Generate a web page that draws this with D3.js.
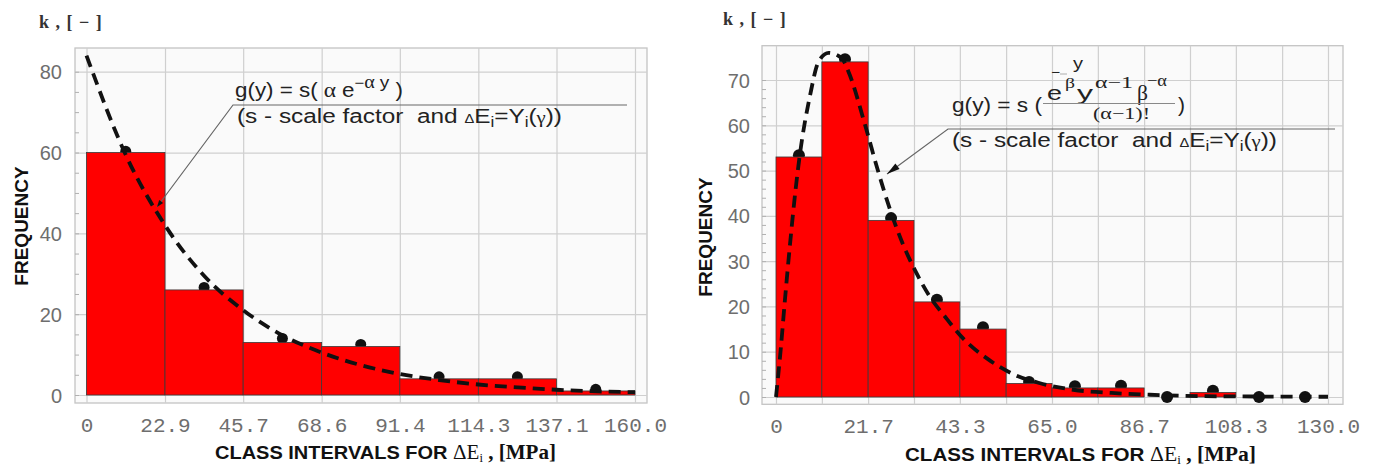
<!DOCTYPE html>
<html><head><meta charset="utf-8">
<script src="https://cdn.jsdelivr.net/npm/d3@7"></script>
<style>body{margin:0;background:#fff} svg{display:block}</style>
</head><body>
<svg id="chart" width="1377" height="467"></svg>
<script>
// ---------- LEFT PANEL DATA (exponential fit) ----------
const leftEdges = [0, 22.9, 45.7, 68.6, 91.4, 114.3, 137.1, 160.0];
const leftTickLabels = ["0", "22.9", "45.7", "68.6", "91.4", "114.3", "137.1", "160.0"];
const leftCounts = [60, 26, 13, 12, 4, 4, 1];
const leftPoints = [60.3, 26.6, 14, 12.5, 4.5, 4.5, 1.4];
const leftYTicks = [0, 20, 40, 60, 80];
const leftCurveX = [0, 11.4, 22.9, 34.3, 45.7, 57.1, 68.6, 80.0, 91.4, 102.9, 114.3, 125.7, 137.1, 148.6, 160.0];
const leftCurveY = [84, 59.5, 42, 29.5, 21, 14.8, 10.5, 7.4, 5.2, 3.7, 2.6, 1.9, 1.3, 0.9, 0.7];

// ---------- RIGHT PANEL DATA (gamma fit) ----------
const rightEdges = [0, 10.8, 21.7, 32.5, 43.3, 54.2, 65.0, 75.8, 86.7, 97.5, 108.3, 119.2, 130.0];
const rightTickValues = [0, 21.7, 43.3, 65.0, 86.7, 108.3, 130.0];
const rightTickLabels = ["0", "21.7", "43.3", "65.0", "86.7", "108.3", "130.0"];
const rightCounts = [53, 74, 39, 21, 15, 3, 2, 2, 0, 1, 0, 0];
const rightPoints = [53.4, 74.6, 39.5, 21.5, 15.4, 3.3, 2.4, 2.5, 0, 1.4, 0, 0];
const rightYTicks = [0, 10, 20, 30, 40, 50, 60, 70];
const rightCurveX = [0, 1.1, 2.1, 3.4, 4.6, 5.6, 8.0, 10.0, 12.4, 15.5, 17.0, 21.0, 24.0, 27.0, 30.0, 33.0, 36.0, 40.0, 44.0, 50.0, 56.0, 62.0, 70.0, 79.0, 88.0, 100.0, 115.0, 130.0];
const rightCurveY = [0, 10.4, 21.4, 34.7, 45.7, 53.4, 66.5, 74, 76, 74.8, 72, 60, 50, 41, 33.5, 27.5, 22.5, 17.5, 13, 8.3, 5, 3.1, 1.6, 0.9, 0.5, 0.2, 0.1, 0.05];

const svg = d3.select("#chart");
const SANS = "'Liberation Sans', Arial, sans-serif";
const SERIF = "'Liberation Serif', 'Times New Roman', serif";
const MONO = "'Liberation Mono', 'Courier New', monospace";

function panel(cfg) {
  const g = svg.append("g");
  const x = d3.scaleLinear().domain(cfg.xDomain).range(cfg.xRange);
  const y = d3.scaleLinear().domain(cfg.yDomain).range(cfg.yRange);
  const f = cfg.frame;

  g.append("rect").attr("x", f.x0).attr("y", f.y0).attr("width", f.x1 - f.x0).attr("height", f.y1 - f.y0)
    .attr("fill", "#fafafa").attr("stroke", "#c4c4c4").attr("stroke-width", 1.3);

  const vg = g.append("g").attr("transform", `translate(0,${f.y0})`)
    .call(d3.axisBottom(x).tickValues(cfg.edges).tickSize(f.y1 - f.y0).tickFormat(""));
  vg.select(".domain").remove();
  vg.selectAll("line").attr("stroke", "#cfcfcf").attr("stroke-width", 1.2);

  const hg = g.append("g").attr("transform", `translate(${f.x0},0)`)
    .call(d3.axisRight(y).tickValues(cfg.yTicks).tickSize(f.x1 - f.x0).tickFormat(""));
  hg.select(".domain").remove();
  hg.selectAll("line").attr("stroke", "#cfcfcf").attr("stroke-width", 1.2);

  const minor = d3.range(0, cfg.yDomain[1] + 0.001, cfg.minorStep).filter(v => y(v) > f.y0);
  const mt = g.append("g").attr("transform", `translate(${f.x0},0)`)
    .call(d3.axisRight(y).tickValues(minor).tickSize(4).tickFormat(""));
  mt.select(".domain").remove();
  mt.selectAll("line").attr("stroke", "#b0b0b0");

  const yl = g.append("g").attr("transform", `translate(${cfg.yLabelX},0)`)
    .call(d3.axisLeft(y).tickValues(cfg.yTicks).tickSize(0).tickPadding(0).tickFormat(d3.format("d")));
  yl.select(".domain").remove();
  yl.selectAll("text").attr("font-family", SANS).attr("font-size", 20).attr("fill", "#6e6e6e").attr("dy", "0.35em");

  const xl = g.append("g").attr("transform", `translate(0,${cfg.xLabelY})`)
    .call(d3.axisBottom(x).tickValues(cfg.xTickValues).tickSize(0).tickPadding(0).tickFormat((d, i) => cfg.xTickLabels[i]));
  xl.select(".domain").remove();
  xl.selectAll("text").attr("font-family", MONO).attr("font-size", 21).attr("fill", "#6e6e6e").attr("dy", "0.35em").attr("y", 0);

  const mids = cfg.counts.map((c, i) => (cfg.edges[i] + cfg.edges[i + 1]) / 2);
  g.append("g").selectAll("circle").data(cfg.points).join("circle")
    .attr("cx", (d, i) => x(mids[i])).attr("cy", d => y(d)).attr("r", cfg.dotR).attr("fill", "#111");

  g.append("g").selectAll("rect").data(cfg.counts).join("rect")
    .attr("x", (d, i) => x(cfg.edges[i])).attr("width", (d, i) => x(cfg.edges[i + 1]) - x(cfg.edges[i]))
    .attr("y", d => y(d)).attr("height", d => y(0) - y(d))
    .attr("fill", "#ff0000").attr("stroke", "#3a3a3a").attr("stroke-width", 0.8);

  const line = d3.line().x(d => x(d[0])).y(d => y(d[1])).curve(d3.curveMonotoneX);
  g.append("path").datum(cfg.curveX.map((v, i) => [v, cfg.curveY[i]]))
    .attr("d", line).attr("fill", "none").attr("stroke", "#111").attr("stroke-width", 3.8)
    .attr("stroke-dasharray", "12,7");

  g.append("text").attr("x", cfg.kPos[0]).attr("y", cfg.kPos[1]).attr("font-family", SERIF)
    .attr("font-weight", "bold").attr("font-size", 18).attr("letter-spacing", 1).attr("fill", "#333").text("k , [ − ]");

  g.append("text").attr("transform", `translate(${cfg.yTitle[0]},${cfg.yTitle[1]}) rotate(-90)`)
    .attr("text-anchor", "middle").attr("font-family", SANS).attr("font-weight", "bold").attr("font-size", 19)
    .attr("fill", "#111").text("FREQUENCY");

  const xt = g.append("text").attr("x", cfg.xTitle[0]).attr("y", cfg.xTitle[1])
    .attr("textLength", cfg.xTitle[2]).attr("lengthAdjust", "spacingAndGlyphs").attr("fill", "#111");
  xt.append("tspan").attr("font-family", SANS).attr("font-weight", "bold").attr("font-size", 19)
    .text("CLASS INTERVALS FOR ");
  xt.append("tspan").attr("font-family", SERIF).attr("font-size", 20).text("ΔE");
  xt.append("tspan").attr("font-family", SERIF).attr("font-size", 12).attr("dy", 3).text("i");
  xt.append("tspan").attr("font-family", SERIF).attr("font-weight", "bold").attr("font-size", 20).attr("dy", -3).text(" , [MPa]");
  return g;
}

function leader(g, pts, tip, headLen, headW) {
  g.append("path").attr("d", d3.line()(pts)).attr("fill", "none").attr("stroke", "#666").attr("stroke-width", 1.2);
  const [tx, ty] = tip, [fx, fy] = pts[1];
  const a = Math.atan2(ty - fy, tx - fx);
  const bx = tx - headLen * Math.cos(a), by = ty - headLen * Math.sin(a);
  const px = -Math.sin(a) * headW, py = Math.cos(a) * headW;
  g.append("path").attr("d", `M${tx},${ty}L${bx + px},${by + py}L${bx - px},${by - py}Z`).attr("fill", "#111");
}

function secondLine(g, x0, y0, len) {
  const t = g.append("text").attr("x", x0).attr("y", y0).attr("font-family", SANS).attr("font-size", 20)
    .attr("fill", "#222").attr("textLength", len).attr("lengthAdjust", "spacingAndGlyphs");
  t.append("tspan").attr("xml:space", "preserve").text("(s - scale factor  and ");
  t.append("tspan").attr("font-size", 12).text("Δ");
  t.append("tspan").text("E");
  t.append("tspan").attr("font-size", 14).attr("dy", 4).text("i");
  t.append("tspan").attr("dy", -4).text("=Y");
  t.append("tspan").attr("font-size", 14).attr("dy", 4).text("i");
  t.append("tspan").attr("dy", -4).text("(");
  t.append("tspan").attr("font-family", SERIF).attr("font-size", 17).text("γ");
  t.append("tspan").text("))");
}

// piece of a formula, stretched to a given width
function piece(g, txt, x0, y0, w, size, fam) {
  g.append("text").attr("x", x0).attr("y", y0).attr("font-family", fam).attr("font-size", size)
    .attr("fill", "#222").attr("textLength", w).attr("lengthAdjust", "spacingAndGlyphs").text(txt);
}

// ---------- LEFT ----------
const gl = panel({
  xDomain: [0, 160], xRange: [86.5, 635], yDomain: [0, 80], yRange: [395, 71.7],
  frame: {x0: 75, x1: 647, y0: 48, y1: 403}, edges: leftEdges, yTicks: leftYTicks, minorStep: 5,
  xTickValues: leftEdges, xTickLabels: leftTickLabels, counts: leftCounts, points: leftPoints,
  curveX: leftCurveX, curveY: leftCurveY, dotR: 5.5, yLabelX: 62, xLabelY: 425,
  kPos: [39, 28], yTitle: [28, 226], xTitle: [215, 459, 341]
});
leader(gl, [[157, 207], [233, 105], [627, 105]], [157, 207], 7, 2.5);
{
  const t = gl.append("text").attr("x", 235).attr("y", 97).attr("font-family", SANS).attr("font-size", 20)
    .attr("fill", "#222").attr("textLength", 168).attr("lengthAdjust", "spacingAndGlyphs");
  t.append("tspan").text("g(y) = s( ");
  t.append("tspan").attr("font-family", SERIF).attr("font-size", 21).text("α ");
  t.append("tspan").text("e");
  t.append("tspan").attr("dy", -9).attr("font-size", 15).text("−");
  t.append("tspan").attr("font-family", SERIF).attr("font-size", 18).text("α ");
  t.append("tspan").attr("font-size", 17).text("y");
  t.append("tspan").attr("dy", 9).text(" )");
  secondLine(gl, 237, 123, 325);
}

// ---------- RIGHT ----------
const gr = panel({
  xDomain: [0, 130], xRange: [776, 1328], yDomain: [0, 70], yRange: [397, 80],
  frame: {x0: 762, x1: 1343, y0: 45.7, y1: 404.3}, edges: rightEdges, yTicks: rightYTicks, minorStep: 2,
  xTickValues: rightTickValues, xTickLabels: rightTickLabels, counts: rightCounts, points: rightPoints,
  curveX: rightCurveX, curveY: rightCurveY, dotR: 6, yLabelX: 750, xLabelY: 426,
  kPos: [723, 25], yTitle: [712, 237], xTitle: [905, 461, 351]
});
leader(gr, [[887, 174], [948, 129], [1335, 129]], [887, 174], 13, 3.5);
{
  piece(gr, "g(y) = s (", 952, 112, 90, 20, SANS);
  piece(gr, "e", 1047, 100, 15, 21, SANS);
  piece(gr, "−", 1051, 77, 9, 14, SANS);
  piece(gr, "y", 1073, 69, 10, 16, SANS);
  piece(gr, "β", 1065, 88, 10, 15, SERIF);
  piece(gr, "y", 1077, 100, 16, 21, SANS);
  piece(gr, "α−1", 1095, 88, 38, 17, SERIF);
  piece(gr, "β", 1137, 100, 11, 20, SERIF);
  piece(gr, "−α", 1147, 86, 20, 17, SERIF);
  piece(gr, "(α−1)!", 1093, 119, 57, 17, SERIF);
  piece(gr, ")", 1178, 112, 7, 20, SANS);
  gr.append("line").attr("x1", 1060).attr("x2", 1067).attr("y1", 74).attr("y2", 74).attr("stroke", "#999").attr("stroke-width", 0.8);
  gr.append("line").attr("x1", 1043).attr("x2", 1175).attr("y1", 103.5).attr("y2", 103.5).attr("stroke", "#888").attr("stroke-width", 1);
  secondLine(gr, 952, 147, 325);
}
</script>
</body></html>
